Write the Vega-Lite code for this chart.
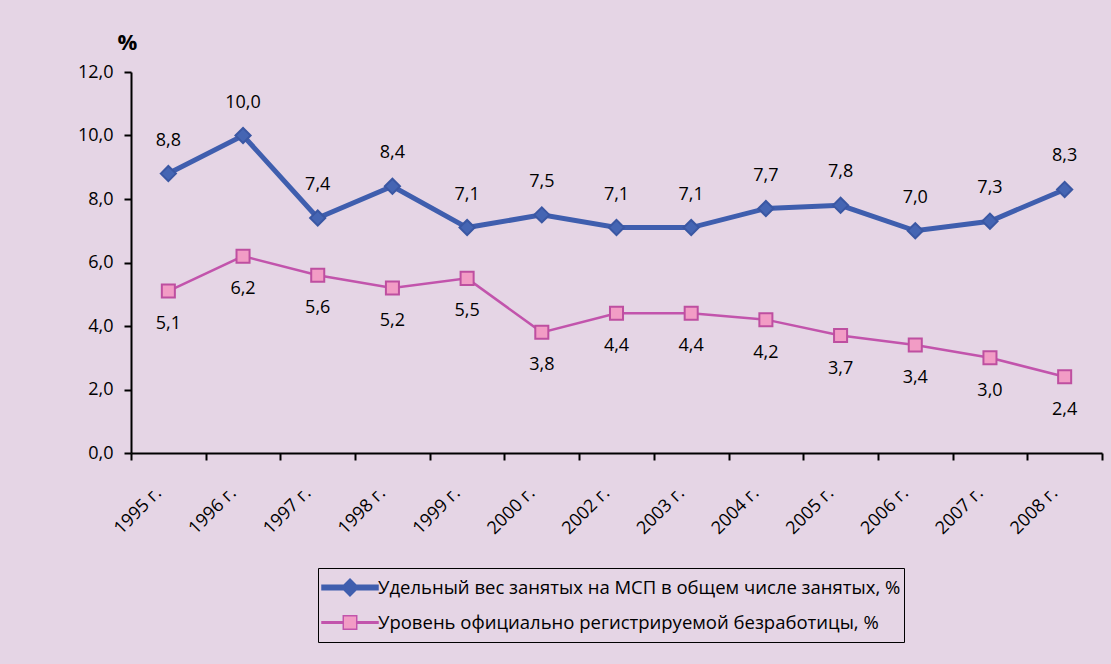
{
  "$schema": "https://vega.github.io/schema/vega-lite/v6.json",
  "width": 971,
  "height": 381,
  "autosize": {"type": "none"},
  "padding": {"left": 131, "top": 72, "right": 9, "bottom": 211},
  "background": "#E5D5E5",
  "config": {
    "locale": {"number": {"decimal": ",", "thousands": " ", "grouping": [3], "currency": ["", " руб."]}},
    "view": {"stroke": null},
    "font": "Open Sans",
    "axis": {"labelFont": "Open Sans", "labelFontSize": 18, "labelColor": "#000", "domainColor": "#000", "domainWidth": 2, "tickColor": "#000", "tickWidth": 2, "tickSize": 7, "grid": false}
  },
  "data": {"values": [
    {"year": "1995 г.", "series": "Удельный вес занятых на МСП в общем числе занятых, %", "value": 8.8},
    {"year": "1996 г.", "series": "Удельный вес занятых на МСП в общем числе занятых, %", "value": 10.0},
    {"year": "1997 г.", "series": "Удельный вес занятых на МСП в общем числе занятых, %", "value": 7.4},
    {"year": "1998 г.", "series": "Удельный вес занятых на МСП в общем числе занятых, %", "value": 8.4},
    {"year": "1999 г.", "series": "Удельный вес занятых на МСП в общем числе занятых, %", "value": 7.1},
    {"year": "2000 г.", "series": "Удельный вес занятых на МСП в общем числе занятых, %", "value": 7.5},
    {"year": "2002 г.", "series": "Удельный вес занятых на МСП в общем числе занятых, %", "value": 7.1},
    {"year": "2003 г.", "series": "Удельный вес занятых на МСП в общем числе занятых, %", "value": 7.1},
    {"year": "2004 г.", "series": "Удельный вес занятых на МСП в общем числе занятых, %", "value": 7.7},
    {"year": "2005 г.", "series": "Удельный вес занятых на МСП в общем числе занятых, %", "value": 7.8},
    {"year": "2006 г.", "series": "Удельный вес занятых на МСП в общем числе занятых, %", "value": 7.0},
    {"year": "2007 г.", "series": "Удельный вес занятых на МСП в общем числе занятых, %", "value": 7.3},
    {"year": "2008 г.", "series": "Удельный вес занятых на МСП в общем числе занятых, %", "value": 8.3},
    {"year": "1995 г.", "series": "Уровень официально регистрируемой безработицы, %", "value": 5.1},
    {"year": "1996 г.", "series": "Уровень официально регистрируемой безработицы, %", "value": 6.2},
    {"year": "1997 г.", "series": "Уровень официально регистрируемой безработицы, %", "value": 5.6},
    {"year": "1998 г.", "series": "Уровень официально регистрируемой безработицы, %", "value": 5.2},
    {"year": "1999 г.", "series": "Уровень официально регистрируемой безработицы, %", "value": 5.5},
    {"year": "2000 г.", "series": "Уровень официально регистрируемой безработицы, %", "value": 3.8},
    {"year": "2002 г.", "series": "Уровень официально регистрируемой безработицы, %", "value": 4.4},
    {"year": "2003 г.", "series": "Уровень официально регистрируемой безработицы, %", "value": 4.4},
    {"year": "2004 г.", "series": "Уровень официально регистрируемой безработицы, %", "value": 4.2},
    {"year": "2005 г.", "series": "Уровень официально регистрируемой безработицы, %", "value": 3.7},
    {"year": "2006 г.", "series": "Уровень официально регистрируемой безработицы, %", "value": 3.4},
    {"year": "2007 г.", "series": "Уровень официально регистрируемой безработицы, %", "value": 3.0},
    {"year": "2008 г.", "series": "Уровень официально регистрируемой безработицы, %", "value": 2.4}
  ]},
  "encoding": {
    "x": {"field": "year", "type": "ordinal", "sort": null,
      "scale": {"paddingInner": 0, "paddingOuter": 0},
      "axis": {"title": null, "labelAngle": -45, "labelAlign": "right", "labelBaseline": "middle", "labelPadding": 30, "labelOffset": -10, "tickBand": "extent"}},
    "y": {"field": "value", "type": "quantitative",
      "scale": {"domain": [0, 12]},
      "axis": {"values": [0, 2, 4, 6, 8, 10, 12], "format": ".1f", "labelPadding": 11, "title": "%", "titleAngle": 0, "titleX": -4, "titleY": -30, "titleAlign": "center", "titleBaseline": "middle", "titleFont": "Open Sans", "titleFontSize": 22, "titleFontWeight": "bold", "titleColor": "#000"}}
  },
  "layer": [
    {
      "mark": {"type": "line"},
      "encoding": {
        "color": {"field": "series", "type": "nominal", "scale": {"domain": ["Удельный вес занятых на МСП в общем числе занятых, %", "Уровень официально регистрируемой безработицы, %"], "range": ["#3F5EAE", "#C254AC"]}, "legend": null},
        "strokeWidth": {"field": "series", "type": "nominal", "scale": {"domain": ["Удельный вес занятых на МСП в общем числе занятых, %", "Уровень официально регистрируемой безработицы, %"], "range": [5, 2.5]}, "legend": null}
      }
    },
    {
      "mark": {"type": "point", "filled": true, "opacity": 1, "strokeWidth": 2},
      "encoding": {
        "shape": {"field": "series", "type": "nominal", "scale": {"domain": ["Удельный вес занятых на МСП в общем числе занятых, %", "Уровень официально регистрируемой безработицы, %"], "range": ["diamond", "square"]}, "legend": null},
        "fill": {"field": "series", "type": "nominal", "scale": {"domain": ["Удельный вес занятых на МСП в общем числе занятых, %", "Уровень официально регистрируемой безработицы, %"], "range": ["#4565B3", "#F29CC5"]}, "legend": null},
        "stroke": {"field": "series", "type": "nominal", "scale": {"domain": ["Удельный вес занятых на МСП в общем числе занятых, %", "Уровень официально регистрируемой безработицы, %"], "range": ["#3A57A3", "#BE4FA0"]}, "legend": null},
        "size": {"field": "series", "type": "nominal", "scale": {"domain": ["Удельный вес занятых на МСП в общем числе занятых, %", "Уровень официально регистрируемой безработицы, %"], "range": [230, 170]}, "legend": null}
      }
    },
    {
      "transform": [{"filter": "datum.series == 'Удельный вес занятых на МСП в общем числе занятых, %'"}],
      "mark": {"type": "text", "dy": -33, "fontSize": 18, "font": "Open Sans", "color": "#000", "baseline": "middle"},
      "encoding": {"text": {"field": "value", "type": "quantitative", "format": ".1f"}}
    },
    {
      "transform": [{"filter": "datum.series == 'Уровень официально регистрируемой безработицы, %'"}],
      "mark": {"type": "text", "dy": 33, "fontSize": 18, "font": "Open Sans", "color": "#000", "baseline": "middle"},
      "encoding": {"text": {"field": "value", "type": "quantitative", "format": ".1f"}}
    },
    {
      "mark": {"type": "point", "filled": true, "opacity": 0, "size": 3136},
      "encoding": {
        "shape": {"field": "series", "type": "nominal", "scale": {"domain": ["Удельный вес занятых на МСП в общем числе занятых, %", "Уровень официально регистрируемой безработицы, %"], "range": ["M-1,-0.08H-0.2V0.08H-1Z M0.2,-0.08H1V0.08H0.2Z M0,-0.3L0.3,0L0,0.3L-0.3,0Z", "M-1,-0.03H-0.25V0.03H-1Z M0.25,-0.03H1V0.03H0.25Z M-0.24,-0.24H0.24V0.24H-0.24Z"]},
          "legend": {"orient": "none", "legendX": 187, "legendY": 496, "title": null, "strokeColor": "#000", "padding": 3, "labelFont": "Open Sans", "labelFontSize": 18.5, "labelColor": "#000", "labelLimit": 700, "symbolStrokeWidth": 1.5, "symbolSize": 3136, "symbolOpacity": 1, "labelOffset": -1, "rowPadding": 2, "clipHeight": 33}},
        "fill": {"field": "series", "type": "nominal", "scale": {"domain": ["Удельный вес занятых на МСП в общем числе занятых, %", "Уровень официально регистрируемой безработицы, %"], "range": ["#3F5EAE", "#F29CC5"]},
          "legend": {"orient": "none", "legendX": 187, "legendY": 496, "title": null, "strokeColor": "#000", "padding": 3, "labelFont": "Open Sans", "labelFontSize": 18.5, "labelColor": "#000", "labelLimit": 700, "symbolStrokeWidth": 1.5, "symbolSize": 3136, "symbolOpacity": 1, "labelOffset": -1, "rowPadding": 2, "clipHeight": 33}},
        "stroke": {"field": "series", "type": "nominal", "scale": {"domain": ["Удельный вес занятых на МСП в общем числе занятых, %", "Уровень официально регистрируемой безработицы, %"], "range": ["#3F5EAE", "#C254AC"]},
          "legend": {"orient": "none", "legendX": 187, "legendY": 496, "title": null, "strokeColor": "#000", "padding": 3, "labelFont": "Open Sans", "labelFontSize": 18.5, "labelColor": "#000", "labelLimit": 700, "symbolStrokeWidth": 1.5, "symbolSize": 3136, "symbolOpacity": 1, "labelOffset": -1, "rowPadding": 2, "clipHeight": 33}}
      }
    }
  ],
  "resolve": {"scale": {"shape": "independent", "fill": "independent", "stroke": "independent", "size": "independent"}}
}
